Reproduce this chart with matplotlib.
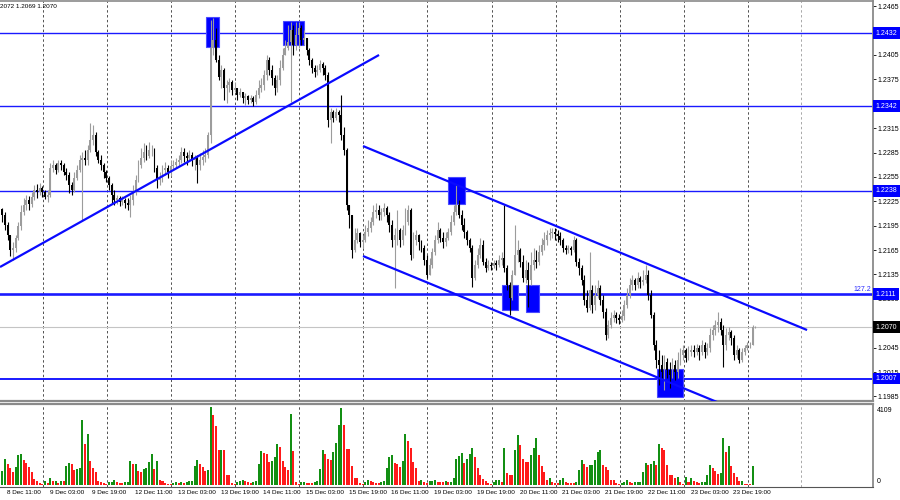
import matplotlib
matplotlib.use("Agg")
import matplotlib.pyplot as plt
from matplotlib.patches import Rectangle
import numpy as np

plt.rcParams['font.family'] = ['Liberation Sans', 'DejaVu Sans']

# ---------------- data (GBPUSD H1), prices given in 1/10000 (2208 -> 1.2208) ----------------
open_first = 2215
close_p = [
    2208, 2196, 2184, 2165, 2168, 2180, 2195, 2212, 2220, 2227,
    2222, 2230, 2239, 2236, 2241, 2236, 2230, 2233, 2266, 2270,
    2264, 2272, 2270, 2261, 2257, 2245, 2239, 2254, 2264, 2276,
    2278, 2276, 2288, 2300, 2307, 2286, 2276, 2270, 2261, 2254,
    2245, 2233, 2227, 2229, 2224, 2227, 2223, 2220, 2227, 2236,
    2251, 2270, 2278, 2286, 2281, 2288, 2288, 2266, 2251, 2254,
    2264, 2266, 2261, 2268, 2270, 2273, 2276, 2286, 2281, 2278,
    2282, 2276, 2278, 2270, 2276, 2280, 2282, 2307, 2414, 2423,
    2399, 2378, 2386, 2364, 2368, 2372, 2362, 2364, 2356, 2359,
    2352, 2355, 2350, 2352, 2347, 2356, 2364, 2368, 2380, 2399,
    2386, 2377, 2364, 2374, 2389, 2405, 2414, 2421, 2436, 2417,
    2430, 2438, 2423, 2426, 2411, 2399, 2389, 2384, 2386, 2394,
    2389, 2380, 2325, 2335, 2328, 2335, 2331, 2307, 2288, 2220,
    2208, 2165, 2177, 2186, 2175, 2177, 2187, 2192, 2200, 2212,
    2214, 2208, 2212, 2217, 2208, 2196, 2177, 2184, 2190, 2177,
    2190, 2200, 2214, 2159, 2177, 2184, 2175, 2168, 2153, 2134,
    2147, 2163, 2177, 2190, 2180, 2175, 2180, 2187, 2200, 2212,
    2220, 2208, 2196, 2187, 2177, 2168, 2131, 2147, 2159, 2171,
    2150, 2143, 2147, 2145, 2149, 2147, 2153, 2155, 2143, 2122,
    2106, 2134, 2159, 2165, 2150, 2131, 2140, 2128, 2147, 2153,
    2150, 2163, 2171, 2177, 2184, 2186, 2187, 2185, 2182, 2177,
    2168, 2165, 2168, 2165, 2177, 2150, 2143, 2128, 2104, 2094,
    2116, 2097, 2110, 2118, 2104, 2089, 2061, 2073, 2082, 2085,
    2082, 2079, 2084, 2097, 2110, 2122, 2128, 2122, 2131, 2126,
    2128, 2134, 2110, 2085, 2048, 2030, 2024, 2015, 2027, 2017,
    2011, 2024, 2015, 2030, 2036, 2042, 2032, 2040, 2042, 2040,
    2045, 2040, 2048, 2040, 2045, 2061, 2067, 2073, 2077, 2067,
    2048, 2061, 2064, 2057, 2036, 2042, 2030, 2040, 2045, 2048,
    2048, 2070, 2070,
]
high_p = [
    2217, 2212, 2200, 2184, 2175, 2184, 2200, 2220, 2229, 2233,
    2232, 2236, 2245, 2246, 2248, 2244, 2239, 2239, 2272, 2276,
    2272, 2276, 2276, 2272, 2266, 2261, 2249, 2261, 2270, 2282,
    2286, 2288, 2294, 2321, 2319, 2310, 2288, 2282, 2272, 2264,
    2256, 2248, 2239, 2233, 2232, 2232, 2229, 2229, 2233, 2245,
    2257, 2276, 2291, 2297, 2294, 2298, 2294, 2291, 2270, 2261,
    2270, 2273, 2270, 2276, 2276, 2278, 2282, 2292, 2291, 2286,
    2288, 2286, 2282, 2282, 2284, 2288, 2291, 2310, 2448, 2450,
    2438, 2405, 2393, 2389, 2374, 2377, 2374, 2372, 2364, 2364,
    2359, 2358, 2356, 2356, 2355, 2362, 2374, 2377, 2386, 2405,
    2402, 2393, 2380, 2380, 2399, 2414, 2423, 2442, 2446, 2442,
    2446, 2446, 2442, 2436, 2426, 2414, 2401, 2393, 2393, 2399,
    2396, 2393, 2384, 2340, 2337, 2340, 2337, 2356, 2316, 2291,
    2220, 2208, 2192, 2192, 2187, 2184, 2196, 2202, 2206, 2220,
    2223, 2220, 2217, 2223, 2219, 2212, 2202, 2192, 2214, 2192,
    2196, 2217, 2220, 2217, 2187, 2190, 2185, 2177, 2171, 2159,
    2155, 2168, 2184, 2200, 2192, 2187, 2187, 2192, 2208, 2220,
    2245, 2227, 2214, 2204, 2190, 2180, 2171, 2153, 2168, 2180,
    2177, 2155, 2153, 2150, 2153, 2153, 2159, 2163, 2220, 2147,
    2126, 2140, 2196, 2177, 2168, 2159, 2153, 2150, 2163, 2168,
    2165, 2171, 2180, 2187, 2190, 2192, 2192, 2192, 2190, 2187,
    2180, 2171, 2171, 2170, 2182, 2180, 2155, 2147, 2134, 2116,
    2163, 2122, 2122, 2128, 2122, 2110, 2094, 2079, 2089, 2091,
    2089, 2086, 2091, 2104, 2118, 2131, 2134, 2131, 2138, 2133,
    2140, 2147, 2140, 2116, 2089, 2054, 2042, 2036, 2036, 2032,
    2027, 2032, 2030, 2040, 2045, 2048, 2045, 2047, 2048, 2048,
    2050, 2048, 2054, 2052, 2051, 2069, 2073, 2079, 2089, 2082,
    2073, 2069, 2070, 2067, 2061, 2048, 2045, 2045, 2048, 2052,
    2052, 2073, 2072,
]
low_p = [
    2200, 2190, 2177, 2158, 2153, 2163, 2177, 2190, 2208, 2214,
    2214, 2218, 2227, 2229, 2233, 2230, 2228, 2224, 2230, 2261,
    2259, 2261, 2264, 2257, 2251, 2235, 2233, 2236, 2251, 2261,
    2202, 2270, 2270, 2286, 2294, 2281, 2272, 2264, 2254, 2249,
    2239, 2223, 2220, 2222, 2219, 2220, 2217, 2214, 2206, 2220,
    2233, 2249, 2266, 2273, 2276, 2278, 2281, 2261, 2241, 2245,
    2249, 2257, 2254, 2256, 2264, 2266, 2268, 2272, 2273, 2270,
    2276, 2268, 2264, 2248, 2264, 2270, 2273, 2278, 2297, 2405,
    2396, 2374, 2364, 2350, 2346, 2359, 2356, 2359, 2350, 2353,
    2346, 2344, 2345, 2346, 2342, 2345, 2352, 2359, 2362, 2374,
    2380, 2368, 2356, 2359, 2368, 2386, 2405, 2411, 2347, 2405,
    2411, 2414, 2417, 2417, 2405, 2393, 2383, 2378, 2380, 2384,
    2380, 2374, 2316, 2297, 2323, 2325, 2323, 2300, 2282, 2214,
    2192, 2155, 2163, 2174, 2169, 2168, 2175, 2182, 2187, 2196,
    2204, 2202, 2202, 2207, 2200, 2187, 2169, 2118, 2171, 2169,
    2171, 2184, 2196, 2153, 2155, 2171, 2165, 2163, 2147, 2131,
    2138, 2143, 2159, 2174, 2175, 2168, 2170, 2177, 2184, 2196,
    2208, 2204, 2190, 2180, 2171, 2163, 2120, 2128, 2143, 2155,
    2147, 2138, 2140, 2140, 2143, 2140, 2144, 2147, 2138, 2116,
    2085, 2104, 2134, 2150, 2144, 2126, 2124, 2095, 2122, 2140,
    2143, 2147, 2159, 2165, 2171, 2177, 2180, 2177, 2175, 2171,
    2163, 2160, 2161, 2159, 2163, 2145, 2134, 2122, 2097, 2089,
    2091, 2088, 2091, 2106, 2097, 2082, 2054, 2057, 2069, 2077,
    2075, 2074, 2077, 2079, 2094, 2106, 2116, 2116, 2118, 2118,
    2122, 2124, 2104, 2082, 2042, 2020, 1999, 2005, 1993, 2008,
    1995, 2008, 2005, 2008, 2024, 2030, 2027, 2030, 2035, 2033,
    2036, 2030, 2036, 2032, 2036, 2040, 2054, 2061, 2064, 2061,
    2021, 2042, 2054, 2048, 2030, 2032, 2026, 2027, 2036, 2042,
    2045, 2048, 2069,
]
volume = [
    739, 1373, 1126, 915, 669, 968, 1584, 1637, 1320, 1179,
    968, 704, 317, 211, 106, 70, 211, 106, 352, 211,
    230, 106, 211, 211, 1003, 1144, 1091, 792, 845, 870,
    3432, 2147, 2693, 1267, 880, 669, 211, 141, 106, 70,
    141, 160, 246, 176, 106, 106, 141, 160, 1267, 1091,
    1110, 739, 704, 845, 870, 1232, 1637, 845, 1267, 264,
    211, 106, 70, 35, 106, 176, 106, 176, 106, 176,
    211, 230, 1021, 1320, 1109, 968, 739, 792, 4109, 3696,
    3133, 1848, 1870, 1848, 528, 528, 106, 70, 141, 211,
    264, 211, 141, 106, 141, 211, 1109, 1795, 1672, 1619,
    1197, 1267, 1478, 2147, 2024, 1285, 968, 792, 3731, 1795,
    141, 70, 141, 176, 106, 106, 106, 141, 211, 845,
    1848, 1619, 1373, 1320, 1760, 2200, 3168, 4050, 3168, 1901,
    1901, 1021, 352, 352, 106, 70, 141, 264, 211, 141,
    106, 106, 141, 211, 880, 1496, 1584, 1144, 1109, 968,
    1267, 2693, 2323, 1971, 1197, 880, 211, 282, 176, 106,
    211, 230, 246, 176, 141, 141, 211, 141,
    150, 387, 1373, 1531, 1672, 1144, 1373, 1619, 1936, 1461,
    880, 528, 317, 211, 106, 70, 176, 246, 264, 141,
    1936, 616, 528, 528, 1848, 2640, 2112, 1373, 1232, 1232,
    1584, 1971, 2464, 1584, 1021, 669, 264, 352, 141, 106,
    100, 282, 352, 141, 130, 106, 100, 141, 792, 1320,
    1109, 968, 1056, 1070, 1320, 1725, 1830, 1056, 968, 774,
    246, 240, 106, 35, 106, 176, 246, 176, 106, 141,
    150, 160, 704, 1144, 1056, 1109, 1285, 1056, 2165, 1936,
    1848, 1056, 528, 520, 352, 440, 141, 70, 440, 141,
    352, 211, 141, 106, 141, 176, 528, 1056, 915, 739,
    581, 651, 2464, 1760, 2077, 1003, 616, 440, 211, 230,
    70, 35, 30, 1003, 15,
]
volume_max_label = 4109

time_labels = ["8 Dec 11:00", "9 Dec 03:00", "9 Dec 19:00", "12 Dec 11:00",
               "13 Dec 03:00", "13 Dec 19:00", "14 Dec 11:00", "15 Dec 03:00",
               "15 Dec 19:00", "16 Dec 11:00", "19 Dec 03:00", "19 Dec 19:00",
               "20 Dec 11:00", "21 Dec 03:00", "21 Dec 19:00", "22 Dec 11:00",
               "23 Dec 03:00", "23 Dec 19:00"]
first_label_bar = 1
label_step = 16

levels = [1.2432, 1.2342, 1.2238, 1.2111, 1.2007]
level_widths = [1.0, 1.0, 1.0, 1.9, 1.4]
current_price = 1.2070
fib_text = "127.2"
header_text = "2072 1.2069 1.2070"
price_ticks = [1.1985, 1.2015, 1.2045, 1.2105, 1.2135, 1.2165, 1.2195, 1.2225,
               1.2255, 1.2285, 1.2315, 1.2375, 1.2405, 1.2465]

# trend lines: (bar, price) anchors
trend_up = [(-0.86, 1.21442), (141.1, 1.2405)]
channel_top = [(135.1, 1.2293), (301.4, 1.20667)]
channel_bottom = [(135.1, 1.21577), (270.0, 1.1975)]
# highlighted zones: (bar_from, bar_to, price_low, price_high)
zones = [(76.3, 81.2, 1.24148, 1.24517),
         (105.1, 113.0, 1.24173, 1.24468),
         (166.9, 173.3, 1.22217, 1.22549),
         (187.2, 193.2, 1.20913, 1.21220),
         (196.2, 201.0, 1.20888, 1.21220),
         (245.2, 254.9, 1.19843, 1.20187)]

# ---------------- derived ----------------
c = 1 + np.array(close_p) / 1e4
h = 1 + np.array(high_p) / 1e4
l = 1 + np.array(low_p) / 1e4
o = np.concatenate([[1 + open_first / 1e4], c[:-1]])
h = np.maximum(h, np.maximum(o, c))
l = np.minimum(l, np.minimum(o, c))
x = np.arange(len(c))
vol = np.array(volume, dtype=float)

FS = 5.0     # price axis labels
FS_T = 4.6   # time labels / header
W, H = 900, 500
fig = plt.figure(figsize=(9, 5), dpi=100)
fig.patch.set_facecolor('white')

ax = fig.add_axes([0, 1 - 401 / H, 873 / W, 400 / H])
axv = fig.add_axes([0, 1 - 487 / H, 873 / W, 83 / H])

xlim = (-0.86, 326.1)
for a in (ax, axv):
    a.set_xlim(*xlim)
    a.set_facecolor('white')
    a.spines['left'].set_visible(False)
    for s in ('top', 'right', 'bottom'):
        a.spines[s].set_color('#8a8a8a')
    a.spines['right'].set_linewidth(1.3)

ax.set_ylim(1.19794, 1.24714)
ax.spines['bottom'].set_linewidth(1.6)
ax.spines['top'].set_linewidth(1.2)
axv.spines['top'].set_linewidth(1.6)
axv.spines['bottom'].set_color('#555555')

# vertical grid
grid_pos = [15.24 + 24 * k for k in range(12)]
for a in (ax, axv):
    for gx in grid_pos:
        a.axvline(gx, color='#505050', lw=0.7, ls=(0, (2.5, 2.5)), zorder=0.5)
    a.axvline(299.1, color='#a8a8a8', lw=0.7, ls=(0, (2.5, 2.5)), zorder=0.5)

# levels
for lv, lw in zip(levels, level_widths):
    ax.axhline(lv, color='#1a1aff', lw=lw, zorder=1.2)
ax.axhline(current_price, color='#c4c4c4', lw=0.8, zorder=1.1)

# zones
for (x0, x1, p0, p1) in zones:
    ax.add_patch(Rectangle((x0, p0), x1 - x0, p1 - p0, facecolor='#0000ff',
                           edgecolor='#4a4aff', lw=0.8, zorder=1.5))

# candles
bull = c >= o
col = np.where(bull, '#9c9c9c', '#000000')
ax.vlines(x, l, h, colors=col, lw=0.8, zorder=2)
body_h = np.maximum(np.abs(c - o), 0.00006)
ax.bar(x, body_h, bottom=np.minimum(o, c), width=0.72, color=col, lw=0, zorder=2.1)

# trend lines
for ln in (trend_up, channel_top, channel_bottom):
    ax.plot([ln[0][0], ln[1][0]], [ln[0][1], ln[1][1]], color='#0a0aff', lw=1.6,
            zorder=3, solid_capstyle='butt')

# price axis
ax.yaxis.tick_right()
ax.set_yticks(price_ticks)
ax.set_yticklabels([f"{v:.4f}" for v in price_ticks])
ax.tick_params(axis='y', length=2, width=0.6, pad=1.5, labelsize=FS, colors='#000000')
ax.tick_params(axis='x', length=0, labelbottom=False)

ytr = ax.get_yaxis_transform()
for lv in levels:
    ax.text(1.003, lv, f"{lv:.4f}", transform=ytr, ha='left', va='center', fontsize=FS,
            color='white', zorder=10, clip_on=False,
            bbox=dict(boxstyle='square,pad=0.35', fc='#0000ff', ec='none'))
ax.text(1.003, current_price, f"{current_price:.4f}", transform=ytr, ha='left', va='center',
        fontsize=FS, color='white', zorder=10, clip_on=False,
        bbox=dict(boxstyle='square,pad=0.35', fc='#000000', ec='none'))
ax.text(0.9985, levels[3] + 0.00018, fib_text, transform=ytr, ha='right', va='bottom',
        fontsize=FS, color='#2a2aff', zorder=10)

fig.text(0.0, 1 - 6.5 / H, header_text, ha='left', va='center', fontsize=FS_T, color='#000000')

# volume panel
vcol = ['#138f13'] + ['#138f13' if vol[i] > vol[i - 1] else '#ff1a1a' for i in range(1, len(vol))]
axv.bar(x, vol, width=0.75, color=vcol, lw=0, zorder=2)
axv.set_ylim(-105, 4267)
axv.yaxis.tick_right()
axv.set_yticks([volume_max_label, 0])
axv.set_yticklabels([str(volume_max_label), '0'])
axv.tick_params(axis='y', length=0, pad=2.5, labelsize=FS, colors='#000000')
for lbl in axv.get_yticklabels():
    lbl.set_va('top')
axv.get_yticklabels()[1].set_va('bottom')

tick_bars = [first_label_bar + label_step * k + 0.75 for k in range(len(time_labels))]
axv.set_xticks(tick_bars)
axv.set_xticklabels(time_labels, ha='left')
axv.tick_params(axis='x', length=0, pad=2.5, labelsize=FS_T, colors='#000000')

fig.savefig('out.png', dpi=100, facecolor='white')
